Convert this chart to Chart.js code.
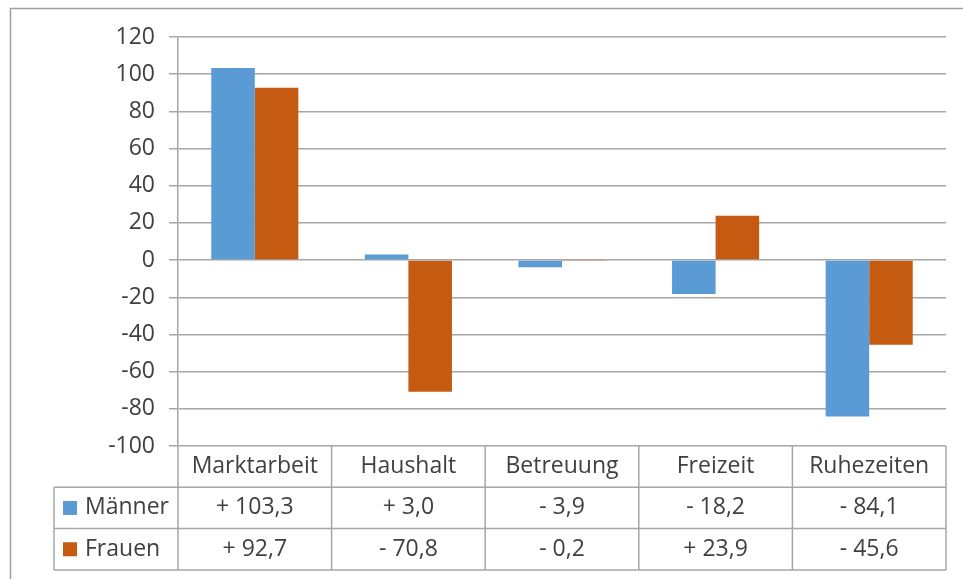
<!DOCTYPE html>
<html>
<head>
<meta charset="utf-8">
<script src="https://cdn.jsdelivr.net/npm/chart.js@4.4.0/dist/chart.umd.min.js"></script>
<style>
  html, body { margin: 0; padding: 0; background: #fff; }
  #wrap { width: 963px; height: 579px; }
</style>
</head>
<body>
<div id="wrap"><canvas id="canvas" width="963" height="579"></canvas></div>
<script>
var kategorien = ['Marktarbeit', 'Haushalt', 'Betreuung', 'Freizeit', 'Ruhezeiten'];
var maenner = [103.3, 3.0, -3.9, -18.2, -84.1];
var frauen = [92.7, -70.8, -0.2, 23.9, -45.6];
var serienNamen = ['Männer', 'Frauen'];
var yMin = -100, yMax = 120, yStep = 20;

var farben = ['#5b9bd5', '#c55a11'];
var linie = '#a6a6a6';
var text = '#404040';
var schrift = '"Open Sans", sans-serif';

function format(v) {
  var s = v >= 0 ? '+ ' : '- ';
  return s + Math.abs(v).toFixed(1).replace('.', ',');
}

// Rahmen um das ganze Diagramm
var rahmen = {
  id: 'rahmen',
  beforeDraw: function(chart) {
    var ctx = chart.ctx;
    ctx.save();
    ctx.fillStyle = '#fff';
    ctx.fillRect(0, 0, chart.width, chart.height);
    ctx.strokeStyle = '#a0a0a0';
    ctx.lineWidth = 1.5;
    ctx.strokeRect(10.5, 8.5, chart.width + 20, chart.height + 20);
    ctx.restore();
  }
};

// Datentabelle unter der Zeichenfläche
var tabelle = {
  id: 'tabelle',
  afterDraw: function(chart) {
    var ctx = chart.ctx, a = chart.chartArea, x = chart.scales.x;
    var rowH = 41.3, top = a.bottom, links = 54;
    var colW = (a.right - a.left) / kategorien.length;
    var reihen = [maenner, frauen];
    ctx.save();
    ctx.strokeStyle = linie;
    ctx.lineWidth = 1.5;
    ctx.beginPath();
    for (var r = 1; r <= 3; r++) {
      ctx.moveTo(links, top + r * rowH);
      ctx.lineTo(a.right, top + r * rowH);
    }
    ctx.moveTo(links, top + rowH);
    ctx.lineTo(links, top + 3 * rowH);
    for (var i = 0; i <= kategorien.length; i++) {
      ctx.moveTo(a.left + i * colW, top);
      ctx.lineTo(a.left + i * colW, top + 3 * rowH);
    }
    ctx.stroke();

    ctx.font = '23px ' + schrift;
    ctx.fillStyle = text;
    ctx.textAlign = 'center';
    ctx.textBaseline = 'middle';
    for (var k = 0; k < kategorien.length; k++) {
      var cx = x.getPixelForValue(k);
      ctx.fillText(kategorien[k], cx, top + rowH * 0.5);
      for (var s = 0; s < reihen.length; s++) {
        ctx.fillText(format(reihen[s][k]), cx, top + rowH * (s + 1.5));
      }
    }
    ctx.textAlign = 'left';
    for (var s2 = 0; s2 < serienNamen.length; s2++) {
      var cy = top + rowH * (s2 + 1.5);
      ctx.fillStyle = farben[s2];
      ctx.fillRect(63, cy - 7, 14, 14);
      ctx.fillStyle = text;
      ctx.fillText(serienNamen[s2], 85, cy);
    }
    ctx.restore();
  }
};

var ctx = document.getElementById('canvas');
window.myBar = new Chart(ctx, {
  type: 'bar',
  data: {
    labels: kategorien,
    datasets: [
      { label: serienNamen[0], data: maenner, backgroundColor: farben[0], borderWidth: 0 },
      { label: serienNamen[1], data: frauen, backgroundColor: farben[1], borderWidth: 0 }
    ]
  },
  options: {
    responsive: false,
    animation: false,
    layout: { padding: { left: 0, right: 17, top: 37, bottom: 133 } },
    plugins: { legend: { display: false }, tooltip: { enabled: false } },
    datasets: { bar: { categoryPercentage: 0.567, barPercentage: 1 } },
    scales: {
      x: { display: false },
      y: {
        min: yMin, max: yMax,
        afterFit: function(scale) { scale.width = 178; },
        ticks: { stepSize: yStep, padding: 14, color: text, font: { family: schrift, size: 23 } },
        grid: { color: linie, lineWidth: 1.5, tickLength: 9 },
        border: { display: true, color: linie, width: 1.5 }
      }
    }
  },
  plugins: [rahmen, tabelle]
});
</script>
</body>
</html>
